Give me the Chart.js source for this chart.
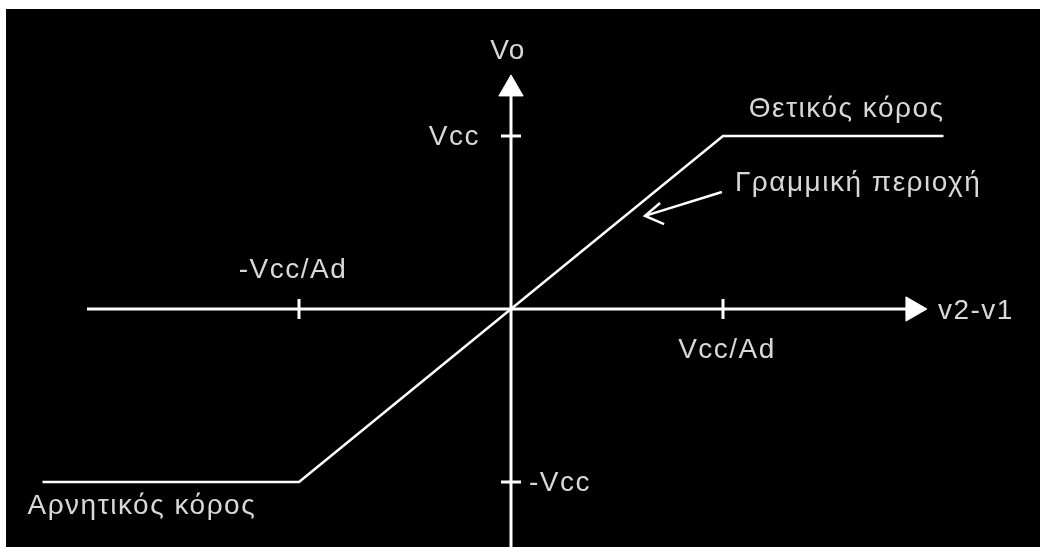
<!DOCTYPE html>
<html lang="el">
<head>
  <meta charset="UTF-8">
  <title>Χαρακτηριστική μεταφοράς</title>
  <script src="https://cdn.jsdelivr.net/npm/chart.js"></script>
  <style>
    body {
      margin: 0;
      background-color: #fff;
    }
    #panel {
      position: absolute;
      left: 6px;
      top: 9px;
      width: 1034px;
      height: 538px;
      background-color: #000;
    }
    #wrap {
      position: absolute;
      left: 0;
      top: 0;
      width: 1040px;
      height: 547px;
    }
  </style>
</head>
<body>
  <div id="panel"></div>
  <div id="wrap"><canvas id="chart"></canvas></div>

  <script>
    // Transfer curve: input in units of Vcc/Ad, output in units of Vcc
    const curveX = [-2.21, -1, 1, 2.04];
    const curveY = [-1, -1, 1, 1];

    // Axis extents
    const xAxisRange = [-2.0, 1.9];
    const yAxisRange = [-1.4, 1.25];
    const xArrowAt = 1.896;
    const yArrowAt = 1.272;

    // Tick positions and their labels
    const xTicks = [-1, 1];
    const xTickLabels = ['-Vcc/Ad', 'Vcc/Ad'];
    const yTicks = [1, -1];
    const yTickLabels = ['Vcc', '-Vcc'];

    const axisTitles = ['v2-v1', 'Vo'];
    const regionNames = ['Θετικός κόρος', 'Γραμμική περιοχή', 'Αρνητικός κόρος'];

    // Pointer to the linear region: tail, tip, head barbs
    const pointerX = [0.995, 0.632, 0.703, 0.722];
    const pointerY = [0.676, 0.538, 0.613, 0.491];

    const WHITE = '#fff';
    const TEXT = '#d8d8d8';
    const FONT = '28px "Liberation Sans", Arial, sans-serif';

    const pts = (xs, ys) => xs.map((x, i) => ({ x: x, y: ys[i] }));

    const lineSet = (data, width) => ({
      type: 'line',
      data: data,
      borderColor: WHITE,
      borderWidth: width,
      pointRadius: 0,
      fill: false,
      tension: 0,
      clip: false
    });

    // Text labels placed from scale pixels
    const labelPlugin = {
      id: 'labels',
      afterDatasetsDraw(chart) {
        const c = chart.ctx;
        const sx = chart.scales.x;
        const sy = chart.scales.y;
        const ox = sx.getPixelForValue(0);
        const oy = sy.getPixelForValue(0);
        c.save();
        c.font = FONT;
        c.letterSpacing = '1.5px';
        c.fillStyle = TEXT;
        c.textBaseline = 'alphabetic';

        // x tick labels: negative above the axis, positive below
        c.textAlign = 'center';
        c.fillText(xTickLabels[0], sx.getPixelForValue(xTicks[0]) - 6, oy - 31);
        c.fillText(xTickLabels[1], sx.getPixelForValue(xTicks[1]) + 4, oy + 49);

        // y tick labels: positive left of the axis, negative right
        c.textAlign = 'right';
        c.fillText(yTickLabels[0], ox - 31, sy.getPixelForValue(yTicks[0]) + 9);
        c.textAlign = 'left';
        c.fillText(yTickLabels[1], ox + 18, sy.getPixelForValue(yTicks[1]) + 9);

        // axis titles next to the arrows
        c.fillText(axisTitles[0], sx.getPixelForValue(xArrowAt) + 25, oy + 10);
        c.textAlign = 'center';
        c.fillText(axisTitles[1], ox - 3, sy.getPixelForValue(yArrowAt) - 30);

        // region names
        c.textAlign = 'right';
        c.fillText(regionNames[0], sx.getPixelForValue(curveX[3]) + 1, sy.getPixelForValue(curveY[3]) - 19);
        c.textAlign = 'left';
        c.fillText(regionNames[1], sx.getPixelForValue(pointerX[0]) + 13, sy.getPixelForValue(pointerY[0]) - 1);
        c.fillText(regionNames[2], sx.getPixelForValue(curveX[0]) - 15, sy.getPixelForValue(curveY[0]) + 32);
        c.restore();
      }
    };

    const ctx = document.getElementById('chart').getContext('2d');
    new Chart(ctx, {
      type: 'scatter',
      data: {
        datasets: [
          lineSet(pts(xAxisRange, [0, 0]), 3),
          lineSet(pts([0, 0], yAxisRange), 3),
          lineSet(pts(curveX, curveY), 2.5),
          lineSet(pts(pointerX.slice(0, 2), pointerY.slice(0, 2)), 2.5),
          lineSet(pts([pointerX[2], pointerX[1], pointerX[3]], [pointerY[2], pointerY[1], pointerY[3]]), 2.5),
          {
            // arrowheads
            data: [{ x: xArrowAt, y: 0 }, { x: 0, y: yArrowAt }],
            pointStyle: 'triangle',
            rotation: [90, 0],
            radius: 14,
            backgroundColor: WHITE,
            borderColor: WHITE,
            borderWidth: 1,
            clip: false
          },
          {
            // tick marks on the x axis
            data: xTicks.map((x) => ({ x: x, y: 0 })),
            pointStyle: 'line',
            rotation: 90,
            radius: 10,
            borderColor: WHITE,
            borderWidth: 3,
            clip: false
          },
          {
            // tick marks on the y axis
            data: yTicks.map((y) => ({ x: 0, y: y })),
            pointStyle: 'line',
            rotation: 0,
            radius: 10,
            borderColor: WHITE,
            borderWidth: 3,
            clip: false
          }
        ]
      },
      options: {
        responsive: true,
        maintainAspectRatio: false,
        animation: false,
        events: [],
        layout: { padding: 0, autoPadding: false },
        plugins: {
          legend: { display: false },
          tooltip: { enabled: false }
        },
        scales: {
          x: { type: 'linear', display: false, min: -2.4104, max: 2.4953 },
          y: { type: 'linear', display: false, min: -1.3757, max: 1.786 }
        }
      },
      plugins: [labelPlugin]
    });
  </script>
</body>
</html>
